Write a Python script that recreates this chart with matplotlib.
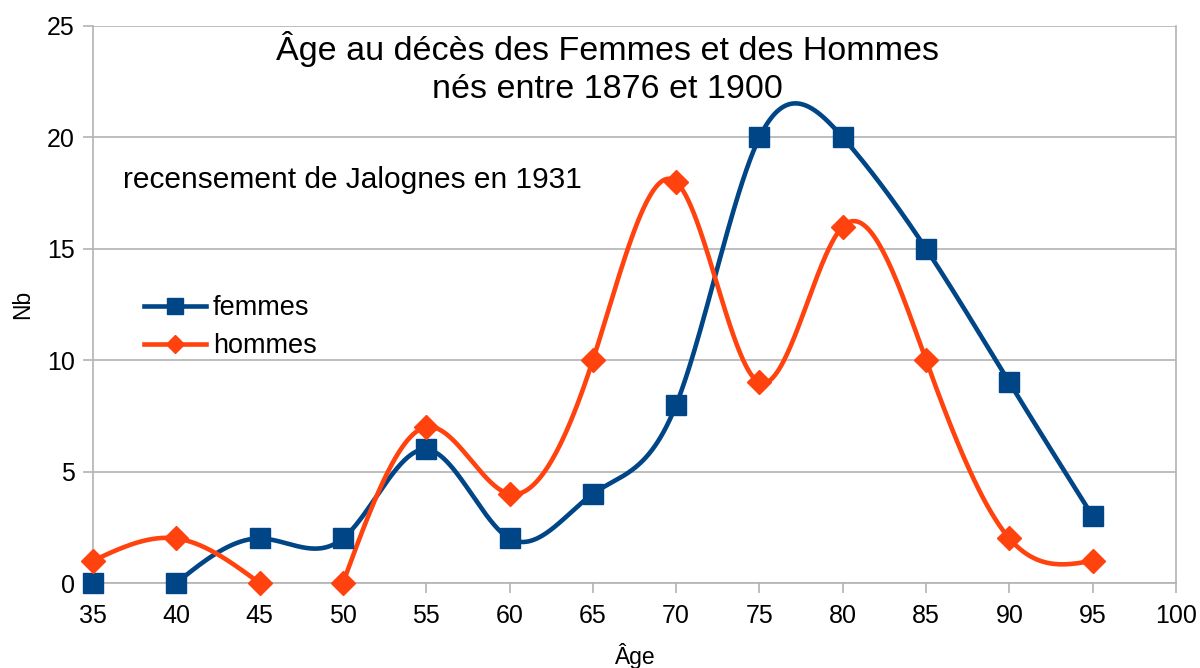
import numpy as np
import matplotlib
matplotlib.use("Agg")
import matplotlib.pyplot as plt

plt.rcParams['font.family'] = ['Liberation Sans', 'DejaVu Sans']

# données : âge au décès (par tranches de 5 ans)
ages = [35, 40, 45, 50, 55, 60, 65, 70, 75, 80, 85, 90, 95]
femmes = [0, 0, 2, 2, 6, 2, 4, 8, 20, 20, 15, 9, 3]
hommes = [1, 2, 0, 0, 7, 4, 10, 18, 9, 16, 10, 2, 1]
# indices où la courbe reprend (cellules vides dans le tableur)
femmes_coupures = [1]
hommes_coupures = [3]

x_ticks = [35, 40, 45, 50, 55, 60, 65, 70, 75, 80, 85, 90, 95, 100]
y_ticks = [0, 5, 10, 15, 20, 25]

BLEU = '#004586'
ORANGE = '#ff420e'
GRIS = '#b3b3b3'


def spline_naturelle(x, y, n=200):
    # spline cubique naturelle, comme le lissage de LibreOffice
    x = np.asarray(x, float)
    y = np.asarray(y, float)
    if len(x) < 3:
        return x, y
    h = np.diff(x)
    m = len(x)
    A = np.zeros((m, m))
    b = np.zeros(m)
    A[0, 0] = 1
    A[-1, -1] = 1
    for i in range(1, m - 1):
        A[i, i - 1] = h[i - 1]
        A[i, i] = 2 * (h[i - 1] + h[i])
        A[i, i + 1] = h[i]
        b[i] = 6 * ((y[i + 1] - y[i]) / h[i] - (y[i] - y[i - 1]) / h[i - 1])
    M = np.linalg.solve(A, b)
    xs, ys = [], []
    for i in range(m - 1):
        t = np.linspace(x[i], x[i + 1], n)
        a = x[i + 1] - t
        c = t - x[i]
        s = (M[i] * a ** 3 + M[i + 1] * c ** 3) / (6 * h[i]) \
            + (y[i] / h[i] - M[i] * h[i] / 6) * a \
            + (y[i + 1] / h[i] - M[i + 1] * h[i] / 6) * c
        xs.append(t)
        ys.append(s)
    return np.concatenate(xs), np.concatenate(ys)


def segments(x, y, coupures):
    bornes = [0] + coupures + [len(x)]
    for d, f in zip(bornes[:-1], bornes[1:]):
        yield x[d:f], y[d:f]


fig = plt.figure(figsize=(12, 6.68), dpi=100)
ax = fig.add_axes([0.0775, 0.1272, 0.98 - 0.0775, 0.9611 - 0.1272])

for serie, coupures, coul, mk, ms, nom in [
        (femmes, femmes_coupures, BLEU, 's', 14, 'femmes'),
        (hommes, hommes_coupures, ORANGE, 'D', 12, 'hommes')]:
    for sx, sy in segments(ages, serie, coupures):
        lx, ly = spline_naturelle(sx, sy)
        ax.plot(lx, ly, color=coul, lw=3.3, solid_capstyle='round', zorder=3)
        ax.plot(sx, sy, ls='none', marker=mk, ms=ms, color=coul, zorder=4, clip_on=False)
    ax.plot([], [], color=coul, lw=3.3, marker=mk, ms=ms * 0.8, label=nom)

ax.set_xlim(35, 100)
ax.set_ylim(0, 25)
ax.set_xticks(x_ticks)
ax.set_yticks(y_ticks)
ax.grid(axis='y', color=GRIS, lw=1.2)
ax.set_axisbelow(True)
for s in ['left', 'right', 'bottom']:
    ax.spines[s].set_color(GRIS)
    ax.spines[s].set_linewidth(1.2)
ax.spines['top'].set_visible(False)
ax.tick_params(axis='both', colors=GRIS, length=7, width=1.2, labelsize=18,
               labelcolor='black')
ax.tick_params(axis='x', pad=8)
ax.tick_params(axis='y', pad=6)

ax.set_xlabel('Âge', fontsize=16.5, labelpad=11)
ax.set_ylabel('Nb', fontsize=16.5, labelpad=9)

fig.text(0.506, 1 - 31 / 668, 'Âge au décès des Femmes et des Hommes\nnés entre 1876 et 1900',
         ha='center', va='top', fontsize=24.5, linespacing=1.3,
         family=['Liberation Sans Narrow', 'Liberation Sans'])
fig.text(123 / 1200, 1 - 180 / 668, 'recensement de Jalognes en 1931',
         ha='left', va='center', fontsize=21.5)

fig.legend(loc='upper left', bbox_to_anchor=(144 / 1200, 1 - 295 / 668), frameon=False,
           fontsize=19.5, handlelength=2.3, handletextpad=0.25, labelspacing=0.45,
           borderaxespad=0, borderpad=0)

fig.savefig('out.png', dpi=100)
